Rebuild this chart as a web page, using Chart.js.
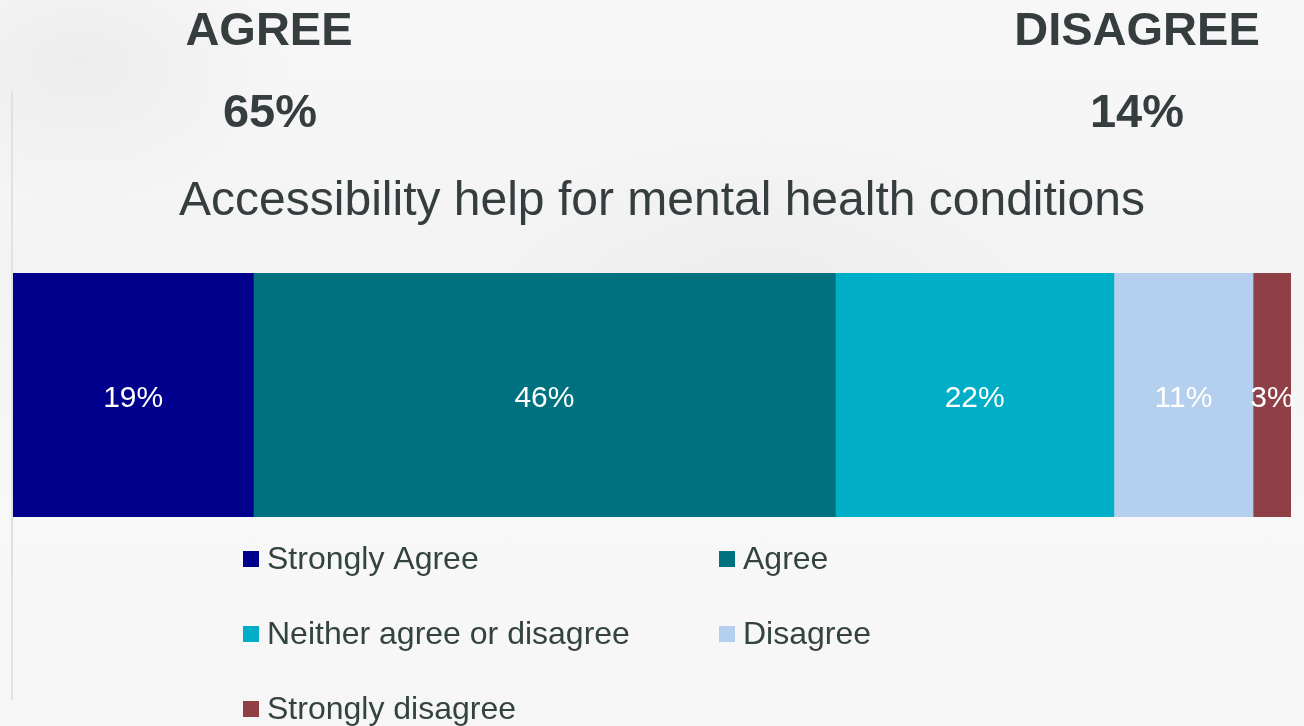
<!DOCTYPE html>
<html>
<head>
<meta charset="utf-8">
<title>Accessibility help for mental health conditions</title>
<script src="https://cdn.jsdelivr.net/npm/chart.js@4/dist/chart.umd.min.js"></script>
<style>
  html, body { margin: 0; padding: 0; }
  body {
    width: 1304px; height: 726px; overflow: hidden;
    background:
      radial-gradient(ellipse 420px 260px at 760px 300px, rgba(225,225,225,0.35), rgba(225,225,225,0) 70%),
      radial-gradient(ellipse 300px 200px at 80px 60px, rgba(215,215,215,0.3), rgba(215,215,215,0) 70%),
      linear-gradient(180deg, #f7f7f7 0%, #f3f3f3 40%, #f8f8f8 70%, #f6f6f6 100%);
  }
  #wrap { position: relative; width: 1304px; height: 726px; }
</style>
</head>
<body>
<div id="wrap"><canvas id="chart"></canvas></div>
<script>
// Survey responses (percent of respondents)
const categories = ["Accessibility help for mental health conditions"];
const responseLabels = ["Strongly Agree", "Agree", "Neither agree or disagree", "Disagree", "Strongly disagree"];
const responseValues = [19, 46, 22, 11, 3];
const responseColors = ["#00008c", "#00727f", "#00aec7", "#b5d0ee", "#8f3f46"];
const agreeIndexes = [0, 1];
const disagreeIndexes = [3, 4];

const textColor = "#353d3f";
const legendTextColor = "#33433f";
const fontFamily = "'Liberation Sans', Arial, sans-serif";

const total = responseValues.reduce((a, b) => a + b, 0);
const sumOf = idx => idx.reduce((s, i) => s + responseValues[i], 0);

// Faint vertical rule at the left edge of the panel
const panelRule = {
  id: 'panelRule',
  beforeDraw(chart) {
    const ctx = chart.ctx;
    ctx.save();
    ctx.strokeStyle = '#dfe2e2';
    ctx.lineWidth = 2;
    ctx.beginPath();
    ctx.moveTo(12, 91);
    ctx.lineTo(12, 700);
    ctx.stroke();
    ctx.restore();
  }
};

// AGREE / DISAGREE headline totals and the chart heading
const headlines = {
  id: 'headlines',
  afterDraw(chart) {
    const ctx = chart.ctx;
    ctx.save();
    ctx.fillStyle = textColor;
    ctx.textAlign = 'center';
    ctx.textBaseline = 'alphabetic';
    ctx.font = `bold 47px ${fontFamily}`;
    ctx.fillText('AGREE', 269, 45);
    ctx.fillText(sumOf(agreeIndexes) + '%', 270, 127);
    ctx.fillText('DISAGREE', 1137, 45);
    ctx.fillText(sumOf(disagreeIndexes) + '%', 1137, 127);
    ctx.font = `48px ${fontFamily}`;
    ctx.fillText(categories[0], 662, 215);
    ctx.restore();
  }
};

// Percentage labels centred inside each segment
const segmentLabels = {
  id: 'segmentLabels',
  afterDatasetsDraw(chart) {
    const ctx = chart.ctx;
    ctx.save();
    ctx.fillStyle = '#ffffff';
    ctx.textAlign = 'center';
    ctx.textBaseline = 'alphabetic';
    ctx.font = `30px ${fontFamily}`;
    chart.data.datasets.forEach((ds, i) => {
      const el = chart.getDatasetMeta(i).data[0];
      if (!el) return;
      const cx = (el.x + el.base) / 2;
      ctx.fillText(ds.data[0] + '%', cx, el.y + 12);
    });
    ctx.restore();
  }
};

// Two-column legend below the bar
const gridLegend = {
  id: 'gridLegend',
  afterDraw(chart) {
    const ctx = chart.ctx;
    const cols = [243, 719];
    const rowTop = 559, rowGap = 75, box = 16;
    ctx.save();
    ctx.font = `32px ${fontFamily}`;
    ctx.textAlign = 'left';
    ctx.textBaseline = 'alphabetic';
    chart.data.datasets.forEach((ds, i) => {
      const x = cols[i % 2];
      const cy = rowTop + Math.floor(i / 2) * rowGap;
      ctx.fillStyle = ds.backgroundColor;
      ctx.fillRect(x, cy - box / 2, box, box);
      ctx.fillStyle = legendTextColor;
      ctx.fillText(ds.label, x + 24, cy + 10);
    });
    ctx.restore();
  }
};

new Chart(document.getElementById('chart'), {
  type: 'bar',
  data: {
    labels: categories,
    datasets: responseLabels.map((label, i) => ({
      label,
      data: [responseValues[i]],
      backgroundColor: responseColors[i],
      borderWidth: 0,
      barPercentage: 1,
      categoryPercentage: 1
    }))
  },
  options: {
    indexAxis: 'y',
    responsive: true,
    maintainAspectRatio: false,
    animation: false,
    layout: { padding: { left: 13, right: 13, top: 273, bottom: 209 } },
    plugins: {
      legend: { display: false },
      title: { display: false },
      tooltip: { enabled: false }
    },
    scales: {
      x: { stacked: true, display: false, min: 0, max: total },
      y: { stacked: true, display: false }
    }
  },
  plugins: [panelRule, headlines, segmentLabels, gridLegend]
});
</script>
</body>
</html>
